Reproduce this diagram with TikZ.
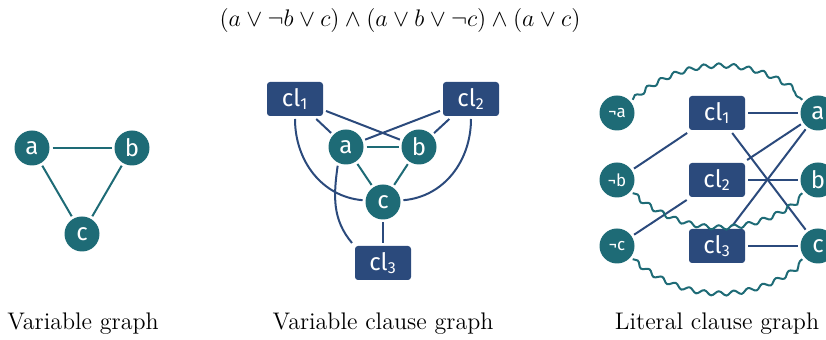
\documentclass[tikz,border=0pt]{standalone}
\usepackage{fontspec}
\newfontfamily\nodefont{Fira Sans}
\usetikzlibrary{decorations.pathmorphing}
\definecolor{tealc}{HTML}{1E6B76}
\definecolor{clblue}{HTML}{2B4A7C}
\begin{document}
\begin{tikzpicture}[x=0.5pt,y=0.5pt,
  var/.style={circle,fill=tealc,text=white,minimum size=17.5pt,inner sep=0pt,outer sep=1.5pt,font=\nodefont\fontsize{12}{14}\selectfont},
  lit/.style={var,font=\nodefont\fontsize{8.5}{10}\selectfont},
  clause/.style={rectangle,rounded corners=1.5pt,fill=clblue,text=white,minimum width=28pt,minimum height=17pt,inner sep=0pt,outer sep=1.5pt,font=\nodefont\fontsize{12}{14}\selectfont},
  vedge/.style={draw=tealc,line width=1pt},
  cedge/.style={draw=clblue,line width=1pt},
  wedge/.style={draw=tealc,line width=1pt,decorate,decoration={snake,amplitude=1.1pt,segment length=7.5pt}},
  gcaption/.style={anchor=base,font=\fontsize{12}{14}\selectfont},
]
\useasboundingbox (0,0) rectangle (826,-340);

% title
\node[font=\fontsize{11.5}{14}\selectfont] (title) at (400,-21) {$(a \vee \neg b \vee c) \wedge (a \vee b \vee \neg c) \wedge (a \vee c)$};

% variable graph
\node[var] (a) at (32,-148) {a};
\node[var] (b) at (132,-148) {b};
\node[var] (c) at (82,-234) {c};
\draw[vedge] (a) -- (b);
\draw[vedge] (a) -- (c);
\draw[vedge] (b) -- (c);

% variable clause graph
\node[clause] (cl1) at (295,-99) {cl\textsubscript{1}};
\node[clause] (cl2) at (471,-99) {cl\textsubscript{2}};
\node[clause] (cl3) at (383,-263) {cl\textsubscript{3}};
\node[var] (a2) at (346,-147) {a};
\node[var] (b2) at (419,-147) {b};
\node[var] (c2) at (383,-202) {c};
\draw[cedge] (cl1) -- (a2);
\draw[cedge] (cl1) -- (b2);
\draw[cedge] (cl2) -- (a2);
\draw[cedge] (cl2) -- (b2);
\draw[cedge] (cl3) -- (c2);
\draw[vedge] (a2) -- (b2);
\draw[vedge] (a2) -- (c2);
\draw[vedge] (b2) -- (c2);
\draw[cedge] (cl1) to[out=-90,in=175] (c2);
\draw[cedge] (cl2) to[out=-90,in=5] (c2);
\draw[cedge] (a2.246) to[out=262,in=130] (cl3.north west);

% literal clause graph
\node[lit] (na) at (617,-113) {¬a};
\node[lit] (nb) at (617,-180) {¬b};
\node[lit] (nc) at (617,-246) {¬c};
\node[clause] (lcl1) at (717,-113) {cl\textsubscript{1}};
\node[clause] (lcl2) at (717,-180) {cl\textsubscript{2}};
\node[clause] (lcl3) at (717,-246) {cl\textsubscript{3}};
\node[var] (la) at (818,-113) {a};
\node[var] (lb) at (818,-180) {b};
\node[var] (lc) at (818,-246) {c};
\draw[cedge] (lcl1) -- (la);
\draw[cedge] (lcl1) -- (nb);
\draw[cedge] (lcl1) -- (lc);
\draw[cedge] (lcl2) -- (la);
\draw[cedge] (lcl2) -- (lb);
\draw[cedge] (lcl2) -- (nc);
\draw[cedge] (lcl3) -- (la);
\draw[cedge] (lcl3) -- (lc);
\draw[wedge] (na) to[bend left=40] (la);
\draw[wedge] (nb) to[bend right=40] (lb);
\draw[wedge] (nc) to[bend right=40] (lc);

% captions
\node[gcaption] (cap1) at (83,-330) {Variable graph};
\node[gcaption] (cap2) at (383,-330) {Variable clause graph};
\node[gcaption] (cap3) at (717,-330) {Literal clause graph};
\end{tikzpicture}
\end{document}
